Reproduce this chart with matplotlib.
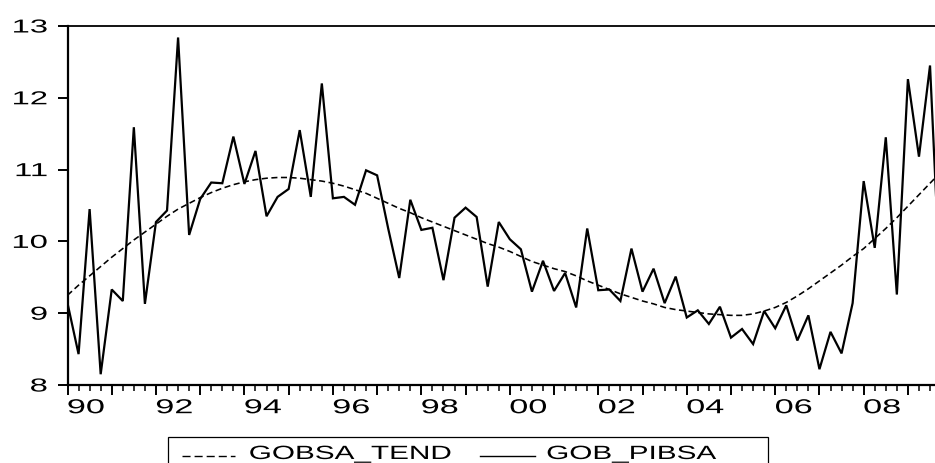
import matplotlib
matplotlib.use("Agg")
import matplotlib.pyplot as plt
from matplotlib.patheffects import AbstractPathEffect
from matplotlib.transforms import Affine2D
from matplotlib.lines import Line2D
from matplotlib.patches import Rectangle

# ---------------- data (quarterly, 1990Q1 ...) ----------------
start_year = 1990
gob_pibsa = [
    9.14, 8.43, 10.45, 8.15, 9.33, 9.17, 11.59, 9.13,      # 1990-1991
    10.27, 10.43, 12.84, 10.09, 10.59, 10.82, 10.81, 11.46,  # 1992-1993
    10.80, 11.26, 10.35, 10.62, 10.73, 11.55, 10.62, 12.20,  # 1994-1995
    10.60, 10.62, 10.51, 10.99, 10.92, 10.18, 9.49, 10.58,   # 1996-1997
    10.16, 10.19, 9.46, 10.33, 10.47, 10.34, 9.37, 10.27,    # 1998-1999
    10.03, 9.89, 9.30, 9.73, 9.31, 9.56, 9.08, 10.18,        # 2000-2001
    9.32, 9.33, 9.17, 9.90, 9.30, 9.62, 9.14, 9.51,          # 2002-2003
    8.94, 9.04, 8.85, 9.09, 8.66, 8.78, 8.57, 9.03,          # 2004-2005
    8.79, 9.11, 8.62, 8.97, 8.22, 8.74, 8.44, 9.14,          # 2006-2007
    10.84, 9.91, 11.45, 9.26, 12.26, 11.18, 12.45, 9.10,     # 2008-2009
]
gobsa_tend = [
    9.25, 9.39, 9.52, 9.65, 9.78, 9.90, 10.02, 10.13,
    10.24, 10.35, 10.45, 10.53, 10.61, 10.68, 10.74, 10.79,
    10.83, 10.86, 10.88, 10.89, 10.89, 10.88, 10.86, 10.84,
    10.81, 10.77, 10.72, 10.67, 10.60, 10.53, 10.46, 10.40,
    10.33, 10.27, 10.21, 10.15, 10.09, 10.03, 9.97, 9.92,
    9.86, 9.79, 9.72, 9.67, 9.62, 9.58, 9.52, 9.45,
    9.39, 9.33, 9.27, 9.22, 9.17, 9.13, 9.08, 9.05,
    9.03, 9.01, 8.99, 8.98, 8.97, 8.97, 8.99, 9.03,
    9.08, 9.15, 9.24, 9.34, 9.45, 9.56, 9.67, 9.79,
    9.90, 10.04, 10.18, 10.33, 10.49, 10.65, 10.81, 10.97,
]
year_labels = ["90", "92", "94", "96", "98", "00", "02", "04", "06", "08"]
y_ticks = [8, 9, 10, 11, 12, 13]
series_names = ["GOBSA_TEND", "GOB_PIBSA"]


# horizontal stretch of glyph outlines (EViews-style wide font)
class HStretch(AbstractPathEffect):
    def __init__(self, sx, anchor="left"):
        super().__init__()
        self.sx = sx
        self.anchor = anchor

    def draw_path(self, renderer, gc, tpath, affine, rgbFace=None):
        ext = tpath.get_extents(affine)
        if self.anchor == "left":
            px = ext.x0
        elif self.anchor == "right":
            px = ext.x1
        else:
            px = 0.5 * (ext.x0 + ext.x1)
        t = affine + Affine2D().translate(-px, 0).scale(self.sx, 1).translate(px, 0)
        renderer.draw_path(gc, tpath, t, rgbFace)


plt.rcParams["font.family"] = ["Liberation Sans", "DejaVu Sans"]

W, H = 935, 463
fig = plt.figure(figsize=(W / 100, H / 100), dpi=100)
left_px, right_px, top_px, bot_px = 67.5, 935, 26, 385
ax = fig.add_axes([left_px / W, 1 - bot_px / H, (right_px - left_px) / W, (bot_px - top_px) / H])

idx = list(range(len(gob_pibsa)))
ax.plot(idx, gobsa_tend, color="black", lw=1.15, ls=(0, (3.8, 2.2)))
ax.plot(idx, gob_pibsa, color="black", lw=1.6, solid_joinstyle="miter")

# axes styling
for s in ["left", "bottom"]:
    ax.spines[s].set_linewidth(1.6)
ax.spines["top"].set_linewidth(1.3)
ax.spines["right"].set_visible(False)

ax.set_yticks(y_ticks, [str(v) for v in y_ticks], fontsize=13.5,
              path_effects=[HStretch(1.75, "right")])
ax.tick_params(axis="y", direction="out", length=7.5, width=1.4, pad=7, right=False)

n_years = len(year_labels) * 2
major_pos = [4 * k for k in range(n_years)]
major_lab = [year_labels[k // 2] if k % 2 == 0 else "" for k in range(n_years)]
ax.set_xticks(major_pos, major_lab, fontsize=14.5, ha="left",
              path_effects=[HStretch(1.7, "left")])
ax.set_xticks(idx[:-1], minor=True)
ax.tick_params(axis="x", which="major", direction="out", length=7.5, width=1.4, pad=2, top=False)
ax.tick_params(axis="x", which="minor", direction="out", length=4, width=1.1, top=False)

# limits set after ticks so they are not expanded
ax.set_xlim(0, 78.45)
ax.set_ylim(8, 13)

# legend (manual, EViews style box at bottom)
fig.add_artist(Rectangle((168.3 / W, -0.1), (768 - 168.3) / W, 0.1 + (1 - 437.3 / H),
                         transform=fig.transFigure, fill=False, lw=0.9, ec="black"))
ly = 1 - 455.5 / H
fig.add_artist(Line2D([181.7 / W, 235 / W], [ly, ly], transform=fig.transFigure,
                      color="black", lw=1.0, ls=(0, (5.8, 2.9))))
fig.add_artist(Line2D([480 / W, 535 / W], [ly, ly], transform=fig.transFigure,
                      color="black", lw=1.0))
base_y = 1 - 459.0 / H
fig.text(249.3 / W, base_y, series_names[0], fontsize=13.8, va="baseline", ha="left",
         path_effects=[HStretch(1.55, "left")])
fig.text(546.7 / W, base_y, series_names[1], fontsize=13.8, va="baseline", ha="left",
         path_effects=[HStretch(1.55, "left")])

fig.savefig("out.png", dpi=100)
